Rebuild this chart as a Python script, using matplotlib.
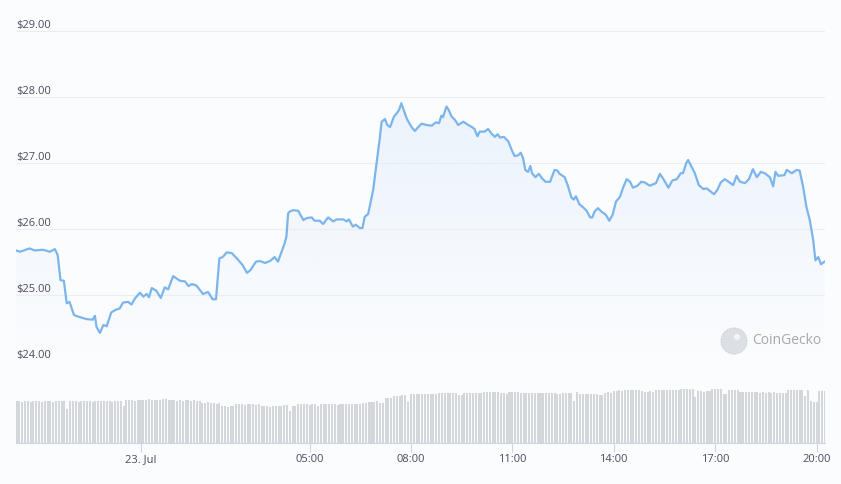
import numpy as np
import pandas as pd
import matplotlib
matplotlib.use('Agg')
import matplotlib.pyplot as plt
import matplotlib.dates as mdates
import matplotlib.transforms as mtransforms
from matplotlib.colors import to_rgb
from matplotlib.patches import Ellipse

# price samples: minutes from 23 Jul 00:00 and price in USD
minutes = [-221, -214, -197, -188, -173, -161, -152, -147, -142, -136,
           -131, -126, -118, -108, -96, -85, -81, -78, -72, -66,
           -60, -52, -44, -37, -31, -22, -16, -10, -1, 5,
           11, 15, 20, 28, 36, 43, 49, 58, 70, 79,
           85, 91, 99, 111, 120, 128, 134, 140, 146, 153,
           162, 172, 181, 189, 195, 205, 212, 221, 230, 238,
           244, 256, 259, 262, 265, 271, 280, 289, 295, 304,
           309, 318, 324, 333, 342, 348, 360, 366, 370, 377,
           382, 389, 394, 398, 404, 408, 413, 419, 425, 428,
           434, 438, 443, 450, 456, 459, 463, 467, 473, 481,
           487, 493, 499, 508, 517, 524, 530, 534, 537, 543,
           547, 552, 558, 564, 573, 582, 588, 593, 598, 602,
           611, 617, 623, 629, 634, 638, 645, 653, 659, 664,
           670, 675, 679, 683, 688, 692, 695, 701, 707, 713,
           719, 727, 731, 735, 740, 744, 753, 759, 765, 769,
           773, 779, 786, 792, 798, 802, 806, 812, 818, 826,
           832, 838, 844, 851, 857, 863, 869, 874, 882, 889,
           895, 904, 915, 922, 929, 937, 944, 952, 959, 963,
           969, 972, 978, 984, 991, 999, 1005, 1011, 1018, 1024,
           1030, 1037, 1044, 1052, 1058, 1064, 1073, 1080, 1087, 1094,
           1101, 1108, 1117, 1123, 1127, 1132, 1143, 1147, 1156, 1165,
           1170, 1176, 1182, 1188, 1194, 1198, 1203, 1208, 1214]
price = [25.68, 25.66, 25.71, 25.68, 25.69, 25.66, 25.70, 25.61, 25.23, 25.22,
         24.88, 24.90, 24.70, 24.67, 24.64, 24.63, 24.69, 24.52, 24.43, 24.55,
         24.53, 24.74, 24.78, 24.80, 24.89, 24.90, 24.86, 24.95, 25.04, 24.98,
         25.02, 24.97, 25.11, 25.07, 24.96, 25.12, 25.09, 25.29, 25.22, 25.21,
         25.14, 25.17, 25.15, 25.02, 25.05, 24.94, 24.94, 25.56, 25.58, 25.65,
         25.64, 25.55, 25.46, 25.34, 25.38, 25.51, 25.52, 25.49, 25.52, 25.58,
         25.51, 25.79, 25.89, 26.24, 26.27, 26.29, 26.28, 26.14, 26.17, 26.18,
         26.13, 26.13, 26.08, 26.18, 26.12, 26.15, 26.15, 26.12, 26.15, 26.04,
         26.07, 26.02, 26.02, 26.19, 26.23, 26.39, 26.60, 27.00, 27.40, 27.63,
         27.67, 27.58, 27.55, 27.71, 27.77, 27.81, 27.91, 27.81, 27.67, 27.55,
         27.49, 27.55, 27.60, 27.58, 27.57, 27.62, 27.61, 27.72, 27.70, 27.86,
         27.81, 27.71, 27.66, 27.58, 27.63, 27.58, 27.55, 27.52, 27.41, 27.48,
         27.48, 27.52, 27.45, 27.40, 27.44, 27.39, 27.40, 27.33, 27.20, 27.11,
         27.12, 27.16, 27.08, 26.90, 26.87, 26.96, 26.85, 26.79, 26.84, 26.77,
         26.72, 26.72, 26.81, 26.90, 26.89, 26.84, 26.79, 26.65, 26.48, 26.45,
         26.50, 26.38, 26.33, 26.28, 26.18, 26.18, 26.27, 26.32, 26.27, 26.22,
         26.13, 26.22, 26.42, 26.49, 26.64, 26.76, 26.72, 26.63, 26.66, 26.72,
         26.71, 26.66, 26.70, 26.84, 26.75, 26.63, 26.74, 26.76, 26.85, 26.85,
         27.01, 27.05, 26.95, 26.85, 26.67, 26.61, 26.62, 26.58, 26.53, 26.60,
         26.71, 26.76, 26.72, 26.67, 26.81, 26.72, 26.70, 26.76, 26.91, 26.79,
         26.87, 26.85, 26.79, 26.65, 26.87, 26.81, 26.82, 26.90, 26.85, 26.90,
         26.89, 26.65, 26.34, 26.14, 25.84, 25.53, 25.58, 25.47, 25.51]

# volume bars, one every 5 minutes from 22 Jul 20:20 (relative units)
vol_start = '2023-07-22 20:20'
volume = [42, 42, 41, 42, 42, 41, 42, 42, 42, 41, 42, 42, 42, 41, 42, 42, 42, 42,
          34,
          42, 42, 42, 41, 42, 42, 42, 42, 41, 42, 42, 42, 42, 42, 42, 41, 42, 42, 42,
          37,
          43, 43, 43, 42, 43, 43, 43, 43, 44, 43, 43, 43, 43, 44, 44, 43, 43,
          43, 42, 43, 42, 43, 43, 42, 43, 42, 42,
          40, 40, 41, 40, 40, 39, 40,
          37, 37, 36, 37, 37,
          39, 39, 39, 38, 39, 39, 39, 38, 39,
          37, 37, 37, 36, 37, 37, 37, 37, 38, 38,
          32, 37, 37,
          39, 39, 39, 39, 38, 39, 39,
          37,
          39, 39, 39, 39, 39, 39, 38, 39, 39, 39, 39, 39, 39, 39, 39, 40, 40,
          41, 41, 41, 42, 40, 40,
          45, 45, 45, 47, 47, 47, 48, 48,
          41, 49,
          49, 49, 49, 49, 49, 49, 49, 49, 49,
          50, 50, 50, 50, 50, 50, 50,
          48, 48,
          50, 50, 50, 50, 50, 50, 50,
          51, 51, 51, 51, 51, 51, 50, 50,
          49,
          51, 51, 51, 51,
          50, 50, 50, 50, 50, 50, 50, 50, 50, 50, 50, 50, 50,
          49, 49, 50, 50, 50, 50,
          42, 51,
          49, 49, 49, 49, 49, 49, 49,
          48, 48, 50, 51, 50,
          52, 52, 53, 52,
          53, 53, 53, 53, 53, 53,
          52, 51, 51, 52, 51,
          53, 53, 53, 53, 53, 53, 53, 53, 53,
          54, 54, 54, 54, 54,
          46,
          52, 52, 51, 52, 52,
          54, 54, 54, 54,
          49, 49,
          53, 53, 53, 53,
          51, 51, 51, 51, 51, 51, 51,
          50, 51, 50, 51, 50, 51, 50,
          50, 50, 50,
          53, 53, 53, 53, 53, 53,
          47, 53, 42, 41, 41, 52, 52, 52]

y_ticks = [24, 25, 26, 27, 28, 29]
x_ticks = ['2023-07-23 00:00', '2023-07-23 05:00', '2023-07-23 08:00',
           '2023-07-23 11:00', '2023-07-23 14:00', '2023-07-23 17:00',
           '2023-07-23 20:00']
x_labels = ['23. Jul', '05:00', '08:00', '11:00', '14:00', '17:00', '20:00']

plt.rcParams['font.family'] = ['Open Sans', 'DejaVu Sans']

base = pd.Timestamp('2023-07-23')
times = base + pd.to_timedelta(minutes, unit='m')
vol_times = pd.date_range(vol_start, periods=len(volume), freq='5min')

line_color = '#7cb5ec'
text_color = '#4b4b5e'
grid_color = '#eaedf2'
bg = '#fbfcfe'

W, H = 841, 484
fig = plt.figure(figsize=(W / 100, H / 100), dpi=100)
fig.patch.set_facecolor(bg)


def px_axes(x0, y0, x1, y1):
    # box given in pixels, y measured from the top
    return fig.add_axes([x0 / W, 1 - y1 / H, (x1 - x0) / W, (y1 - y0) / H])


xlim = (times[0], times[-1] + pd.Timedelta(minutes=1))

# price panel
ax = px_axes(16, 21.4, 825, 361.3)
ax.set_facecolor('none')
ax.set_xlim(xlim)
ax.set_ylim(24, 29.15)
for s in ax.spines.values():
    s.set_visible(False)
ax.set_xticks([])
ax.set_yticks(y_ticks)
ax.yaxis.grid(True, color=grid_color, lw=0.8, zorder=0)
ax.tick_params(axis='y', length=0, labelleft=False)

# gradient area under the line
poly = ax.fill_between(times, price, 24, color='none', lw=0)
path = poly.get_paths()[0]
rgba = np.zeros((256, 1, 4))
rgba[..., :3] = to_rgb(line_color)
rgba[..., 3] = np.linspace(0.13, 0.0, 256)[:, None]
x0n, x1n = mdates.date2num(xlim[0]), mdates.date2num(xlim[1])
im = ax.imshow(rgba, extent=[x0n, x1n, 24, 28], aspect='auto',
               origin='upper', zorder=1, interpolation='bilinear')
im.set_clip_path(path, transform=ax.transData)
ax.set_xlim(xlim)
ax.set_ylim(24, 29.15)

ax.plot(times, price, color=line_color, lw=1.6, zorder=3,
        solid_joinstyle='round')

trans = mtransforms.blended_transform_factory(ax.transAxes, ax.transData)
for v in y_ticks:
    ax.text(0, v, f'${v:.2f}', transform=trans, ha='left', va='bottom',
            fontsize=8, color=text_color, zorder=4)

# volume panel
vax = px_axes(16, 361.3, 825, 443.3)
vax.set_facecolor('none')
vax.bar(vol_times, volume, width=3.6 / 1440, color='#d3d6db', lw=0)
vax.set_xlim(xlim)
vax.set_ylim(0, 82)
for k in ['top', 'left', 'right']:
    vax.spines[k].set_visible(False)
vax.spines['bottom'].set_color('#ccd6eb')
vax.spines['bottom'].set_linewidth(0.8)
vax.set_yticks([])
vax.set_xticks(pd.to_datetime(x_ticks))
vax.set_xticklabels(x_labels)
vax.tick_params(axis='x', length=6.5, width=0.8, color='#ccd6eb',
                labelsize=8, labelcolor=text_color, pad=1.5)

# watermark
fig.add_artist(Ellipse((734 / W, 1 - 341 / H), 26 / W, 26 / H,
                       transform=fig.transFigure, facecolor='#dcdfe4',
                       edgecolor='#cdd1d8', lw=0.8, ls=(0, (1.5, 1))))
fig.add_artist(Ellipse((737 / W, 1 - 337 / H), 6 / W, 6 / H,
                       transform=fig.transFigure, facecolor='#f4f5f7',
                       edgecolor='none'))
fig.text(752 / W, 1 - 341 / H, 'CoinGecko', ha='left', va='center',
         fontsize=10, color='#a4a8b0')

fig.savefig('out.png', dpi=100, facecolor=fig.get_facecolor())
